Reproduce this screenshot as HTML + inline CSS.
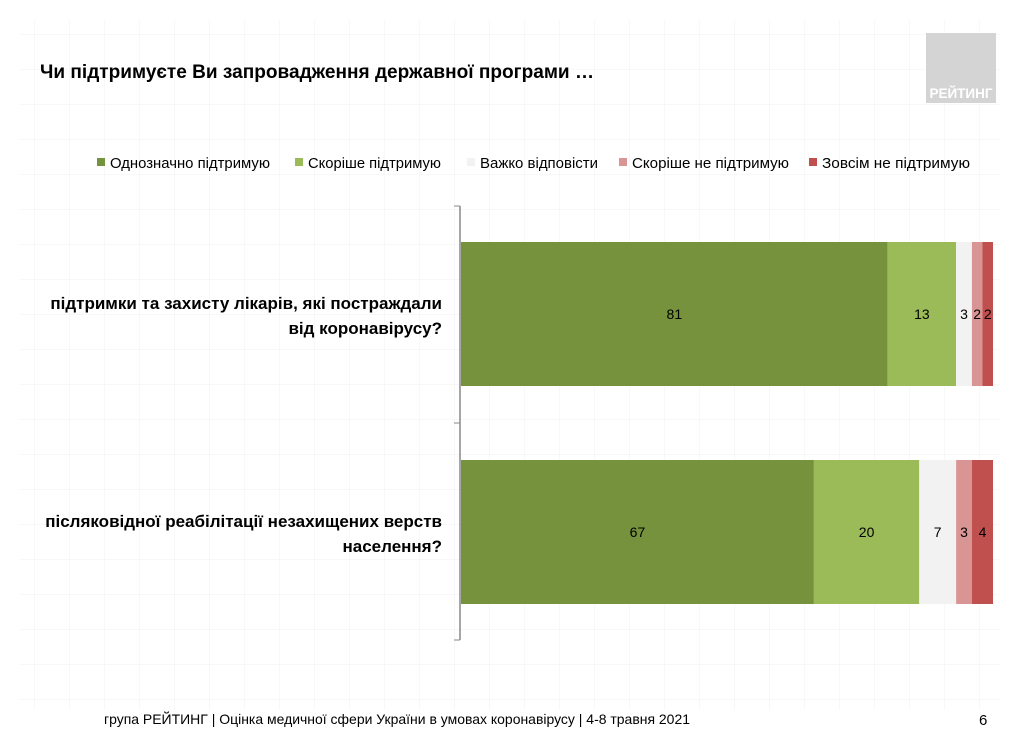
<!DOCTYPE html>
<html><head><meta charset="utf-8"><style>
body{margin:0;background:#fff;}
svg{display:block;font-family:"Liberation Sans","DejaVu Sans",sans-serif;}
</style></head><body>
<svg id="chart" width="1024" height="732" viewBox="0 0 1024 732">
<defs><pattern id="grid" width="35" height="35" patternUnits="userSpaceOnUse"><path d="M35 0V35M0 35H35" stroke="#f2f2f2" stroke-width="1" fill="none"/></pattern></defs>
<rect width="1024" height="732" fill="#fff"/>
<rect x="20" y="20" width="980" height="690" fill="url(#grid)"/>
<text x="40" y="78" font-size="19" font-weight="bold" fill="#000" textLength="554" lengthAdjust="spacingAndGlyphs">Чи підтримуєте Ви запровадження державної програми …</text>
<g><rect x="926" y="33" width="70" height="70" fill="#d4d4d4"/><text x="961" y="98" font-size="13.5" font-weight="bold" fill="#fff" text-anchor="middle">РЕЙТИНГ</text></g>
<g id="legend"></g>
<g id="axis"><line x1="460" y1="206" x2="460" y2="640" stroke="#888" stroke-width="1.5"/><line x1="454" y1="206" x2="460" y2="206" stroke="#888"/><line x1="454" y1="423" x2="460" y2="423" stroke="#888"/><line x1="454" y1="640" x2="460" y2="640" stroke="#888"/></g>
<g id="bars"></g>
<g font-size="17" font-weight="bold" fill="#000" text-anchor="end">
<text x="442" y="309">підтримки та захисту лікарів, які постраждали</text>
<text x="442" y="334">від коронавірусу?</text>
<text x="442" y="527">післяковідної реабілітації незахищених верств</text>
<text x="442" y="552">населення?</text>
</g>
<text x="104" y="724" font-size="14" fill="#000" textLength="586" lengthAdjust="spacingAndGlyphs">група РЕЙТИНГ  |  Оцінка медичної сфери України в умовах коронавірусу  | 4-8 травня 2021</text>
<text x="979" y="725" font-size="15" fill="#000">6</text>
</svg>
<script>
const categories=["підтримки та захисту лікарів","післяковідної реабілітації"];
const seriesNames=["Однозначно підтримую","Скоріше підтримую","Важко відповісти","Скоріше не підтримую","Зовсім не підтримую"];
const s1=[81,67];
const s2=[13,20];
const s3=[3,7];
const s4=[2,3];
const s5=[2,4];
const colors=["#76923c","#9bbb59","#f2f2f2","#d99594","#c0504d"];
const series=[s1,s2,s3,s4,s5];
const NS="http://www.w3.org/2000/svg";
const x0=461,xw=532,bandTop=[242,460],bandH=144;
function xs(v,total){return v/total*xw;}
const bars=document.getElementById('bars');
categories.forEach((c,i)=>{
  const total=series.reduce((a,s)=>a+s[i],0);
  let x=x0;
  series.forEach((s,k)=>{
    const w=xs(s[i],total);
    const r=document.createElementNS(NS,'rect');
    r.setAttribute('x',x);r.setAttribute('y',bandTop[i]);r.setAttribute('width',w);r.setAttribute('height',bandH);r.setAttribute('fill',colors[k]);
    
    
    bars.appendChild(r);
    const t=document.createElementNS(NS,'text');
    t.setAttribute('x',x+w/2);t.setAttribute('y',bandTop[i]+bandH/2+5);t.setAttribute('text-anchor','middle');t.setAttribute('font-size','14');t.setAttribute('fill','#000');
    t.textContent=s[i];
    
    
    bars.appendChild(t);
    x+=w;
  });
});
const leg=document.getElementById('legend');
const lx=[97,295,467,619,809];
const lw=[160,133,118,157,148];
seriesNames.forEach((n,k)=>{
  const r=document.createElementNS(NS,'rect');
  r.setAttribute('x',lx[k]);r.setAttribute('y',158);r.setAttribute('width',8);r.setAttribute('height',8);r.setAttribute('fill',colors[k]);
  
  
  leg.appendChild(r);
  const t=document.createElementNS(NS,'text');
  t.setAttribute('x',lx[k]+13);t.setAttribute('y',168);t.setAttribute('font-size','15');t.setAttribute('fill','#000');
  t.setAttribute('textLength',lw[k]);t.setAttribute('lengthAdjust','spacingAndGlyphs');
  t.textContent=n;
  
  
  leg.appendChild(t);
});
</script>
</body></html>
